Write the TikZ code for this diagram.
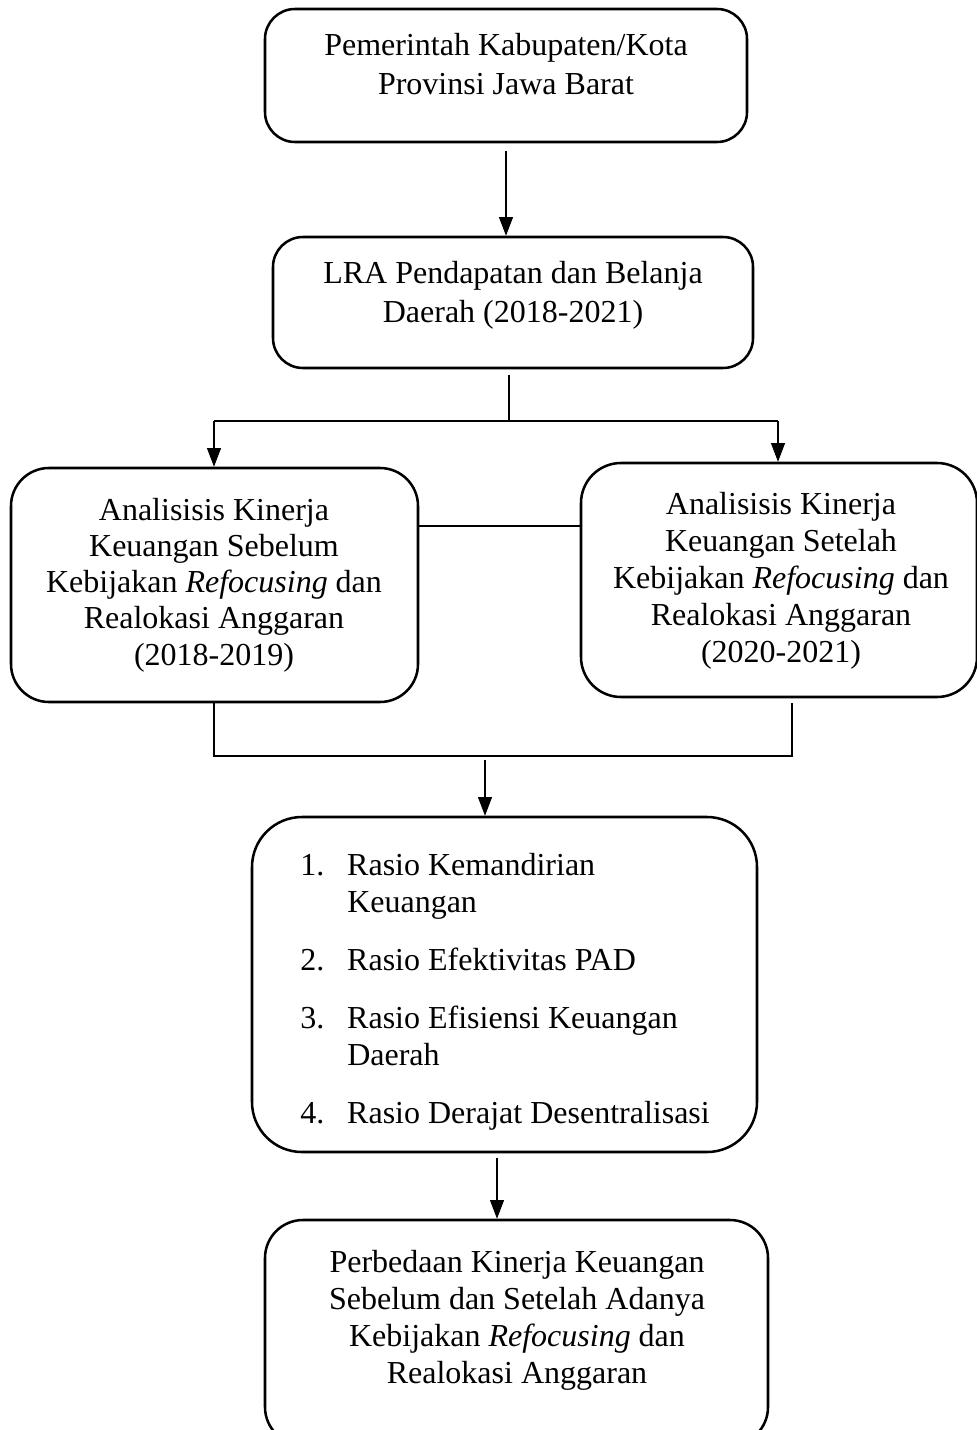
\documentclass[tikz,border=0pt]{standalone}
\usepackage{fontspec}
\setmainfont{Liberation Serif}
\usetikzlibrary{arrows.meta}
\newdimen\pxu \pxu=0.75pt
\begin{document}
\begin{tikzpicture}[x=0.75pt,y=-0.75pt,
  box/.style={draw=black, line width=1.9pt, rectangle, inner sep=0pt},
  txt/.style={inner sep=0pt, align=center, font=\fontsize{24}{27.75}\selectfont},
  conn/.style={draw=black, line width=0.8pt},
  arr/.style={conn, -{Triangle[length=14pt,width=10.5pt]}}]
\useasboundingbox (0,0) rectangle (976,1430);
% boxes
\node[box, minimum width=482\pxu, minimum height=133\pxu, rounded corners=30\pxu] (b1) at (506,75.5) {};
\node[box, minimum width=480\pxu, minimum height=131\pxu, rounded corners=30\pxu] (b2) at (513,302.5) {};
\node[box, minimum width=407\pxu, minimum height=234\pxu, rounded corners=38\pxu] (b3) at (214.5,585) {};
\node[box, minimum width=396\pxu, minimum height=234\pxu, rounded corners=40\pxu] (b4) at (779,580) {};
\node[box, minimum width=505\pxu, minimum height=335\pxu, rounded corners=50\pxu] (b5) at (504.5,984.5) {};
\node[box, minimum width=503\pxu, minimum height=225\pxu, rounded corners=38\pxu] (b6) at (516.5,1332.5) {};
% texts
\node[txt, font=\fontsize{24}{29.25}\selectfont] (t1) at (506,64.5) {Pemerintah Kabupaten/Kota\\Provinsi Jawa Barat};
\node[txt, font=\fontsize{24}{29.25}\selectfont] (t2) at (513,295) {LRA Pendapatan dan Belanja\\Daerah (2018-2021)};
\node[txt, font=\fontsize{24}{27.2}\selectfont] (t3) at (214,585) {Analisisis Kinerja\\Keuangan Sebelum\\Kebijakan \textit{Refocusing} dan\\Realokasi Anggaran\\(2018-2019)};
\node[txt] (t4) at (781,580.5) {Analisisis Kinerja\\Keuangan Setelah\\Kebijakan \textit{Refocusing} dan\\Realokasi Anggaran\\(2020-2021)};
\node[txt, align=left, anchor=north west] (t5) at (300,853) {%
\makebox[47\pxu][l]{1.}Rasio Kemandirian\\
\makebox[47\pxu][l]{}Keuangan\\[15.75pt]
\makebox[47\pxu][l]{2.}Rasio Efektivitas PAD\\[15.75pt]
\makebox[47\pxu][l]{3.}Rasio Efisiensi Keuangan\\
\makebox[47\pxu][l]{}Daerah\\[15.75pt]
\makebox[47\pxu][l]{4.}Rasio Derajat Desentralisasi};
\node[txt] (t6) at (517,1320.5) {Perbedaan Kinerja Keuangan\\Sebelum dan Setelah Adanya\\Kebijakan \textit{Refocusing} dan\\Realokasi Anggaran};
% connector points
\coordinate (s1) at (506,151);
\coordinate (s2) at (509,375);
\coordinate (j1) at (509,421);
\coordinate (jl) at (214,421);
\coordinate (jr) at (778,421);
\coordinate (mid) at (0,526);
\coordinate (dr) at (792,703);
\coordinate (el) at (214,756);
\coordinate (er) at (792,756);
\coordinate (s3) at (485,760);
\coordinate (s4) at (497,1158);
% connectors
\draw[arr] (s1) -- (s1 |- b2.north);
\draw[conn] (s2) -- (j1);
\draw[conn] (jl) -- (jr);
\draw[arr] (jl) -- (jl |- b3.north);
\draw[arr] (jr) -- (jr |- b4.north);
\draw[conn] (b3.east |- mid) -- (b4.west |- mid);
\draw[conn] (b3.south -| el) -- (el) -- (er) -- (dr);
\draw[arr] (s3) -- (s3 |- b5.north);
\draw[arr] (s4) -- (s4 |- b6.north);
\end{tikzpicture}
\end{document}
